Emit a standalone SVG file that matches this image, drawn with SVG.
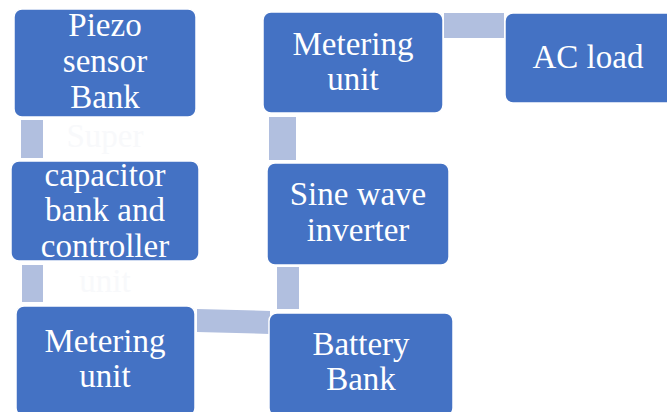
<svg xmlns="http://www.w3.org/2000/svg" width="667" height="412" viewBox="0 0 667 412">
<style>
.box{fill:#4472C4;stroke:#ffffff;stroke-width:1.5}
.con{fill:#B1BFDF}
text{font-family:"Liberation Serif","Times New Roman",serif;font-size:33px;fill:#ffffff;text-anchor:middle}
.ghost{fill:#f8f9fb}
</style>
<rect width="667" height="412" fill="#ffffff"/>
<g id="connectors">
<rect class="con" x="21" y="120" width="22" height="38"/>
<rect class="con" x="22" y="265" width="21" height="37"/>
<polygon class="con" points="197,309 270,311 270,334 197,332"/>
<rect class="con" x="277" y="267" width="22" height="42"/>
<rect class="con" x="269" y="117" width="27" height="43"/>
<rect class="con" x="444" y="13" width="60" height="25"/>
</g>
<g id="piezo">
<rect class="box" x="14" y="9" width="182" height="108" rx="8"/>
<text x="105" y="36">Piezo</text>
<text x="105" y="72">sensor</text>
<text x="105" y="108">Bank</text>
</g>
<g id="capacitor">
<text class="ghost" x="105" y="147">Super</text>
<rect class="box" x="11" y="161" width="188" height="100" rx="8"/>
<text x="105" y="186">capacitor</text>
<text x="105" y="221">bank and</text>
<text x="105" y="257">controller</text>
<text class="ghost" x="105" y="292">unit</text>
</g>
<g id="metering-bottom">
<rect class="box" x="16" y="306" width="179" height="110" rx="8"/>
<text x="105" y="352">Metering</text>
<text x="105" y="387">unit</text>
</g>
<g id="battery">
<rect class="box" x="269" y="313" width="184" height="103" rx="8"/>
<text x="361" y="355">Battery</text>
<text x="361" y="390">Bank</text>
</g>
<g id="inverter">
<rect class="box" x="267" y="163" width="182" height="102" rx="8"/>
<text x="358" y="205">Sine wave</text>
<text x="358" y="241">inverter</text>
</g>
<g id="metering-top">
<rect class="box" x="263" y="12" width="180" height="101" rx="8"/>
<text x="353" y="55">Metering</text>
<text x="353" y="90">unit</text>
</g>
<g id="acload">
<rect class="box" x="505" y="13" width="170" height="90" rx="8"/>
<text x="588" y="68">AC load</text>
</g>
</svg>
